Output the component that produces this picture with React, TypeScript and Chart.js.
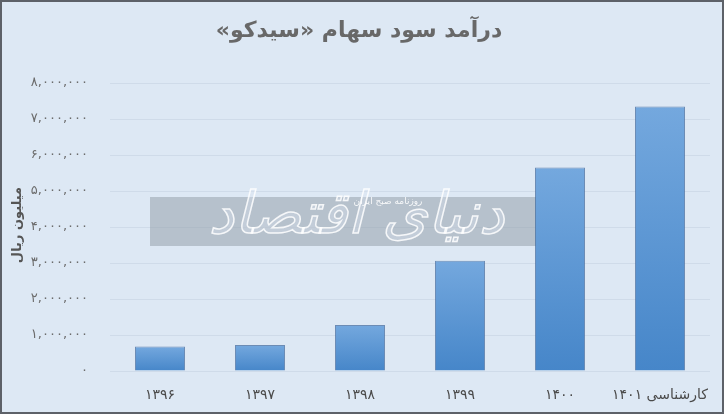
import React, { useEffect, useRef } from "react";
import { Chart, registerables } from "chart.js";

Chart.register(...registerables);

const categories: string[] = ["۱۳۹۶", "۱۳۹۷", "۱۳۹۸", "۱۳۹۹", "۱۴۰۰", "۱۴۰۱ کارشناسی"];
const values: number[] = [680000, 720000, 1280000, 3060000, 5650000, 7350000];
const yMin = 0;
const yMax = 8000000;
const yStep = 1000000;
const titleText = "درآمد سود سهام «سیدکو»";
const yAxisTitle = "میلیون ریال";
const watermarkText = "دنیای اقتصاد";
const watermarkSub = "روزنامه صبح ایران";

const FONT = "'DejaVu Sans', sans-serif";

function toPersian(n: number): string {
  const s = n.toLocaleString("en-US");
  return s.replace(/\d/g, (d) => "۰۱۲۳۴۵۶۷۸۹"[Number(d)]);
}

const decorPlugin = {
  id: "decor",
  beforeDatasetsDraw(chart: any) {
    const { ctx, chartArea } = chart;
    ctx.save();
    const x0 = chartArea.left + 40;
    const x1 = chartArea.left + 433;
    const y0 = chartArea.top + 114;
    const y1 = chartArea.top + 163;
    ctx.fillStyle = "rgba(150,160,172,0.55)";
    ctx.fillRect(x0, y0, x1 - x0, y1 - y0);
    ctx.direction = "rtl";
    ctx.textAlign = "center";
    ctx.textBaseline = "middle";
    ctx.font = `italic 58px ${FONT}`;
    ctx.lineWidth = 1.5;
    ctx.strokeStyle = "rgba(255,255,255,0.85)";
    ctx.fillStyle = "rgba(220,230,240,0.35)";
    ctx.fillText(watermarkText, (x0 + x1) / 2 + 10, (y0 + y1) / 2 - 4);
    ctx.strokeText(watermarkText, (x0 + x1) / 2 + 10, (y0 + y1) / 2 - 4);
    ctx.font = `9px ${FONT}`;
    ctx.fillStyle = "rgba(255,255,255,0.9)";
    ctx.fillText(watermarkSub, x0 + 238, y0 + 5);
    ctx.restore();
  },
  afterDraw(chart: any) {
    const { ctx } = chart;
    ctx.save();
    ctx.direction = "rtl";
    ctx.textAlign = "center";
    ctx.textBaseline = "middle";
    ctx.fillStyle = "#686868";
    ctx.font = `bold 22px ${FONT}`;
    ctx.fillText(titleText, chart.width / 2 - 3, 29);
    ctx.translate(16, 223);
    ctx.rotate(-Math.PI / 2);
    ctx.fillStyle = "#555555";
    ctx.font = `bold 13px ${FONT}`;
    ctx.fillText(yAxisTitle, 0, 0);
    ctx.restore();
  },
};

export default function App() {
  const ref = useRef<HTMLCanvasElement | null>(null);
  useEffect(() => {
    if (!ref.current) return;
    const chart = new Chart(ref.current, {
      type: "bar",
      data: {
        labels: categories,
        datasets: [
          {
            data: values,
            backgroundColor: (c: any) => {
              const chartObj = c.chart;
              const y = chartObj.scales && chartObj.scales.y;
              if (!y || c.raw == null) return "#5b97d6";
              const top = y.getPixelForValue(c.raw);
              const base = y.getPixelForValue(0);
              if (!isFinite(top) || !isFinite(base) || top === base) return "#5b97d6";
              const g = chartObj.ctx.createLinearGradient(0, top, 0, base);
              g.addColorStop(0, "#74a8de");
              g.addColorStop(1, "#4686c9");
              return g;
            },
            borderColor: "rgba(70,110,160,0.75)",
            borderWidth: 1,
            barPercentage: 0.5,
            categoryPercentage: 1,
          },
        ],
      },
      options: {
        responsive: false,
        animation: false,
        layout: { padding: { top: 81, right: 12, bottom: 0, left: 0 } },
        plugins: {
          legend: { display: false },
          title: { display: false },
          tooltip: { enabled: false },
        },
        scales: {
          x: {
            grid: { display: false },
            border: { display: false },
            ticks: {
              color: "#4a4a4a",
              font: { family: FONT, size: 14 },
              padding: 8,
              maxRotation: 0,
            },
            afterFit: (s: any) => {
              s.height = 41;
            },
          },
          y: {
            min: yMin,
            max: yMax,
            grid: { color: "#cfdbe9", drawTicks: false, lineWidth: 1 },
            border: { display: false },
            ticks: {
              stepSize: yStep,
              color: "#6c6c6c",
              font: { family: FONT, size: 13 },
              padding: 22,
              callback: (v: any) => toPersian(Number(v)),
            },
            afterFit: (s: any) => {
              s.width = 108;
            },
          },
        },
      },
      plugins: [decorPlugin],
    });
    return () => chart.destroy();
  }, []);

  return (
    <div
      style={{
        position: "absolute",
        left: 0,
        top: 0,
        width: 724,
        height: 414,
        boxSizing: "border-box",
        border: "2px solid #5d6168",
        background: "#dde8f4",
      }}
    >
      <canvas ref={ref} width={720} height={410} style={{ display: "block" }} />
    </div>
  );
}
